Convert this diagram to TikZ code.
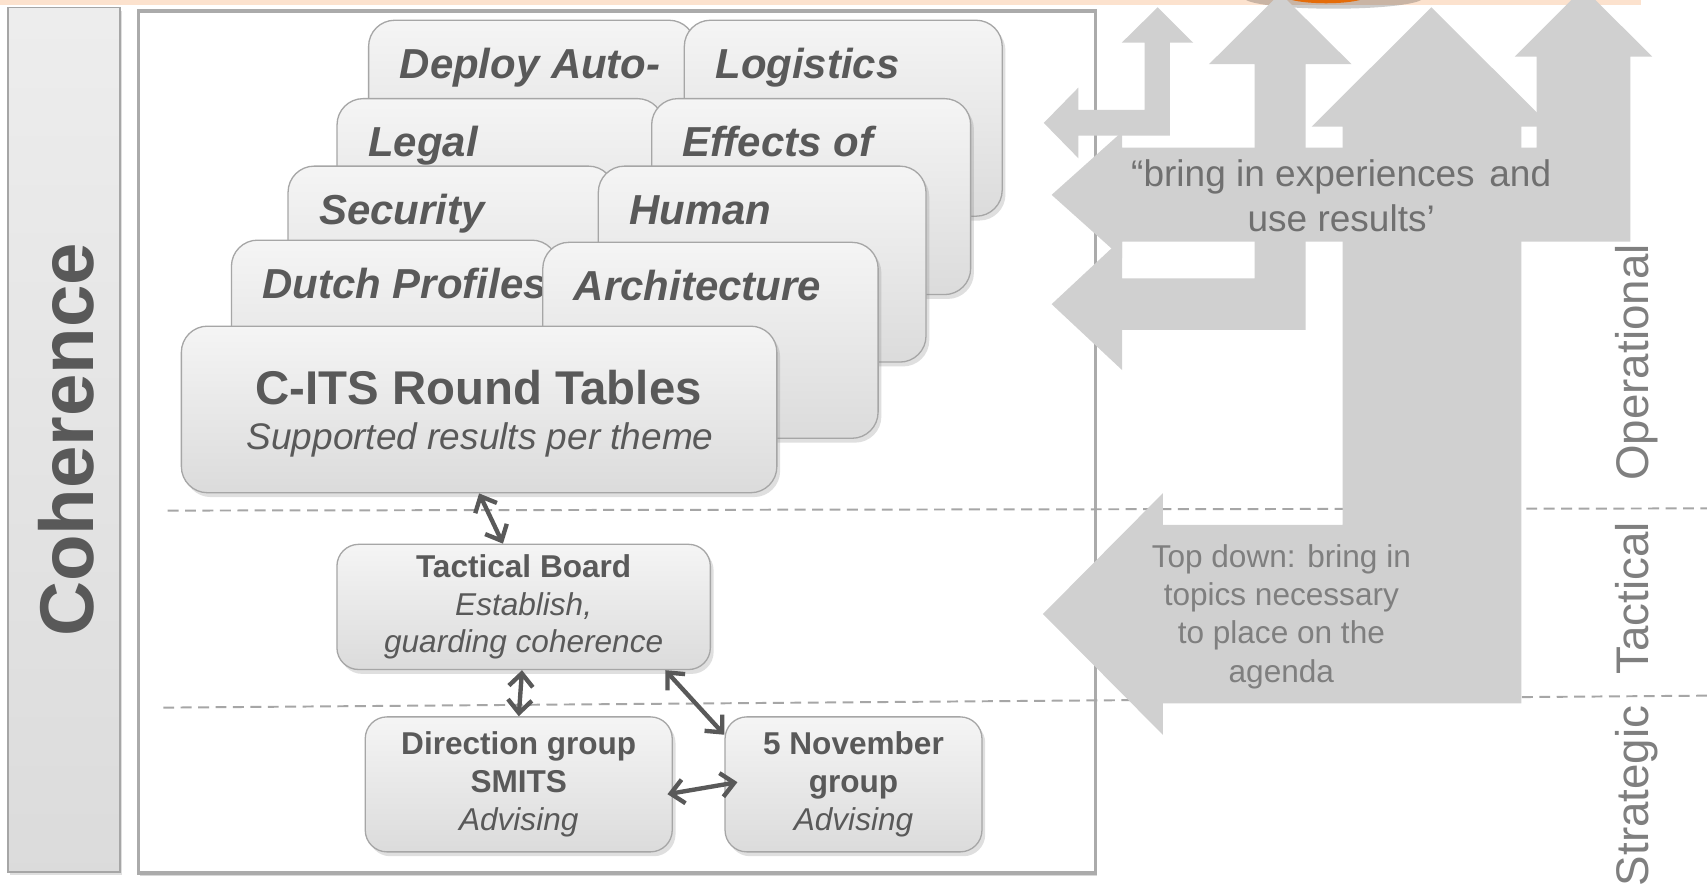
\documentclass[tikz,border=0pt]{standalone}
\usepackage{fontspec}
\setmainfont{Liberation Sans}
\usetikzlibrary{arrows.meta,shadows}

\definecolor{darktext}{HTML}{595959}
\definecolor{lightline}{HTML}{A6A6A6}
\definecolor{framegrey}{HTML}{ABABAB}
\definecolor{flowgrey}{HTML}{D0D0D0}
\definecolor{flowtext}{HTML}{707070}
\definecolor{leveltext}{HTML}{7F7F7F}
\definecolor{bandpeach}{HTML}{FCE2CE}
\definecolor{bloborange}{HTML}{E46C0A}

\begin{document}
\begin{tikzpicture}[x=1pt,y=-1pt,
  theme/.style={draw=lightline,line width=1.2pt,rounded corners=24pt,top color=white!96!black,bottom color=white!86!black,
    drop shadow={shadow xshift=3pt,shadow yshift=-4pt,opacity=.25},anchor=north west,inner sep=0pt},
  themelabel/.style={anchor=base west,inner sep=0pt,text=darktext,font=\fontsize{38.5}{46}\selectfont\bfseries\itshape},
  boardbox/.style={draw=lightline,line width=1.2pt,rounded corners=20pt,top color=white!96!black,bottom color=white!86!black,
    drop shadow={shadow xshift=3pt,shadow yshift=-4pt,opacity=.25},inner sep=0pt,align=center,text=darktext,
    font=\fontsize{29}{34.5}\selectfont},
  twoway/.style={{Straight Barb[length=12pt,width=22pt]}-{Straight Barb[length=12pt,width=22pt]},line width=4pt,draw=darktext},
  flow/.style={fill=flowgrey},
  levelline/.style={draw=lightline,line width=1.8pt,dash pattern=on 10pt off 6pt},
  layerlabel/.style={rotate=90,anchor=base,inner sep=0pt,text=leveltext,font=\fontsize{42}{50}\selectfont}]
\useasboundingbox[fill=white] (0,0) rectangle (1568,821);
\begin{scope}
\clip (0,0) rectangle (1568,821);
\fill[bandpeach] (0,0) rectangle (1507,5);
\fill[black,opacity=.2] (1225,-2) ellipse [x radius=82pt,y radius=10pt];
\fill[bloborange] (1218,-5) ellipse [x radius=40pt,y radius=8pt];
\end{scope}

\node[draw=lightline,line width=1.5pt,top color=white!93!black,bottom color=white!86!black,
  drop shadow={shadow xshift=2pt,shadow yshift=-3pt,opacity=.25},minimum width=103pt,minimum height=794pt,inner sep=0pt] (cohbar) at (59,404) {};
\node[rotate=90,anchor=base,inner sep=0pt,text=darktext,font=\fontsize{70}{84}\selectfont\bfseries] (cohtext) at (86,404) {Coherence};

\node[draw=framegrey,line width=3.5pt,fill=white,minimum width=879pt,minimum height=792pt,inner sep=0pt,anchor=north west,
  drop shadow={shadow xshift=1.5pt,shadow yshift=-2pt,opacity=.3}] (frame) at (125.5,8.5) {};

\coordinate (opsep-w) at (154,469);
\coordinate (opsep-e) at (1568,467);
\coordinate (stsep-w) at (150,650);
\coordinate (stsep-e) at (1568,639);
\draw[levelline] (opsep-w) -- (opsep-e);
\draw[levelline] (stsep-w) -- (stsep-e);

\foreach \nm/\cx/\cy/\cw/\lbl in {deploy/338/18/300/Deploy Auto-,logistics/628/18/292/Logistics,legal/309/90/300/Legal,
  effects/598/90/293/Effects of,security/264/152/300/Security,human/549/152/301/Human,
  dutch/212/220/300/Dutch Profiles,archi/498/222/308/Architecture}{
  \node[theme,minimum width=\cw pt,minimum height=180pt] (\nm) at (\cx,\cy) {};
  \node[themelabel] (\nm-label) at ([shift={(29,54)}]\nm.north west) {\lbl};
}
\node[theme,minimum width=547pt,minimum height=153pt] (cits) at (166,299) {};
\node[anchor=base,inner sep=0pt,text=darktext,font=\fontsize{43.5}{52}\selectfont\bfseries] (cits-title) at (439.5,372) {C-ITS Round Tables};
\node[anchor=base,inner sep=0pt,text=darktext,font=\fontsize{34}{40}\selectfont\itshape] (cits-sub) at (441,413) {Supported results per theme};

\node[boardbox,minimum width=343pt,minimum height=115pt] (tb) at (481,557.5) {\textbf{Tactical Board}\\\textit{Establish,}\\\textit{guarding coherence}};
\node[boardbox,minimum width=282pt,minimum height=124pt] (dg) at (476.5,720.5) {\textbf{Direction group}\\\textbf{SMITS}\\\textit{Advising}};
\node[boardbox,minimum width=236pt,minimum height=124pt] (nov) at (784,720.5) {\textbf{5 November}\\\textbf{group}\\\textit{Advising}};

\draw[twoway] (cits.south) -- ([xshift=-19pt]tb.north);
\draw[twoway] ([xshift=-1.5pt]tb.south) -- (dg.north);
\draw[twoway] ([xshift=-42pt]tb.south east) -- ([yshift=-17pt]nov.north west);
\draw[twoway] ([shift={(-5,9)}]dg.east) -- ([shift={(12,-2)}]nov.west);

\begin{scope}
\clip (0,0) rectangle (1568,821);
\fill[flow] (1063.4,6.7) -- (1096,39.2) -- (1074.6,39.2) -- (1074.6,124.6) -- (990.6,124.6) -- (990.6,145.4) -- (958.8,112.9)
  -- (990.6,80.4) -- (990.6,101) -- (1051.5,101) -- (1051.5,39.2) -- (1030.4,39.2) -- cycle;
\fill[flow] (1176,-6) -- (1241.5,59) -- (1199.4,59) -- (1199.4,303) -- (1030.8,303) -- (1030.8,340) -- (966,279.4)
  -- (1030.8,219) -- (1030.8,255.7) -- (1152.5,255.7) -- (1152.5,59) -- (1110.5,59) -- cycle;
\fill[flow] (1314.8,6.7) -- (1424.8,116.4) -- (1397.5,116.4) -- (1397.5,646) -- (1068.2,646) -- (1068.2,675) -- (958,564)
  -- (1068.2,453) -- (1068.2,482.2) -- (1233.2,482.2) -- (1233.2,116.4) -- (1204.8,116.4) -- cycle;
\fill[flow] (1454.5,-11) -- (1517.6,52) -- (1497.7,52) -- (1497.7,222) -- (1030.8,222) -- (1030.8,237) -- (966,179)
  -- (1030.8,121) -- (1030.8,135.6) -- (1411.4,135.6) -- (1411.4,52) -- (1391.5,52) -- cycle;
\end{scope}
\node[align=center,inner sep=0pt,text=flowtext,font=\fontsize{34}{41}\selectfont] (bringin) at (1232,180) {“bring in experiences\hspace{4pt} and\\use results’};
\node[align=center,inner sep=0pt,text=leveltext,font=\fontsize{29}{35}\selectfont] (topdown) at (1177,566.5) {Top down: bring in\\topics necessary\\to place on the\\agenda};

\node[layerlabel] (strategic) at (1514,731) {Strategic};
\node[layerlabel] (tactical) at (1514,549.5) {Tactical};
\node[layerlabel] (operational) at (1514,333) {Operational};
\end{tikzpicture}
\end{document}
